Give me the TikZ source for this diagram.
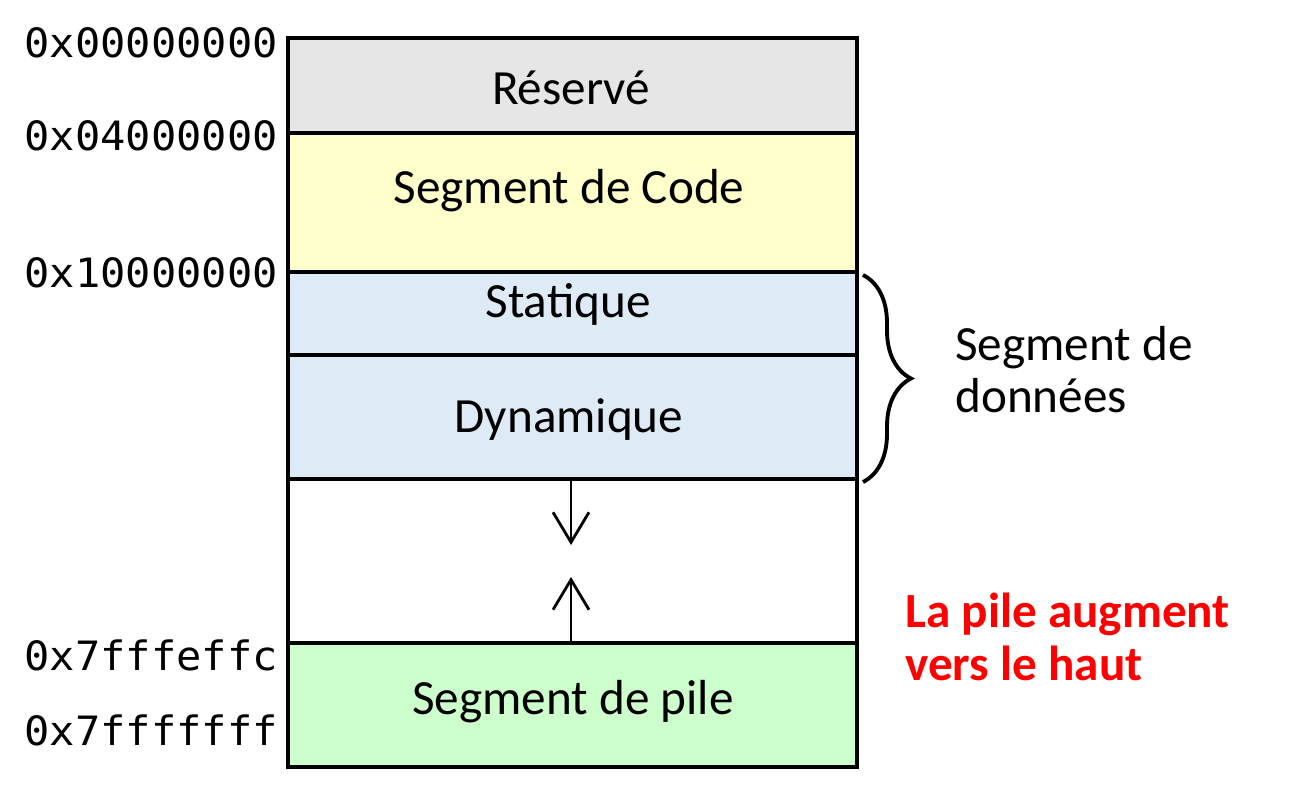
\documentclass[tikz,border=0pt]{standalone}
\usepackage{fontspec}
\setmainfont{Carlito}
\newfontfamily\adrfont[FakeStretch=1.04]{DejaVu Sans Mono}
\usepackage{xcolor}
\usetikzlibrary{positioning,arrows.meta,decorations.pathreplacing}
\definecolor{gris}{HTML}{E6E6E6}
\definecolor{jaune}{HTML}{FFFFCC}
\definecolor{bleu}{HTML}{DEEAF6}
\definecolor{vert}{HTML}{CCFFCC}

\begin{document}
\begin{tikzpicture}[x=0.02cm,y=-0.02cm,
    seg/.style={draw, line width=2.1pt, minimum width=11.38cm, inner sep=0pt, outer sep=0pt},
    lbl/.style={anchor=base, inner sep=0pt, font=\fontsize{28}{30}\selectfont},
    note/.style={anchor=base west, inner sep=0pt, font=\fontsize{28}{30}\selectfont},
    adr/.style={anchor=base east, inner sep=0pt, font=\adrfont\fontsize{23}{27}\selectfont},
    fleche/.style={-{Straight Barb[length=0.6cm,width=0.72cm]}, line width=1.6pt},
    accolade/.style={decorate, decoration={brace, amplitude=0.96cm}, line width=2.2pt}]
        \useasboundingbox (0,0) rectangle (1291,791);

        % les segments de la memoire
        \node[seg, fill=gris, minimum height=1.9cm, anchor=north west] (reserve) at (288,38) {};
        \node[seg, fill=jaune, minimum height=2.78cm, below=0pt of reserve] (code) {};
        \node[seg, fill=bleu, minimum height=1.66cm, below=0pt of code] (statique) {};
        \node[seg, fill=bleu, minimum height=2.48cm, below=0pt of statique] (dynamique) {};
        \node[seg, fill=white, minimum height=3.28cm, below=0pt of dynamique] (libre) {};
        \node[seg, fill=vert, minimum height=2.48cm, below=0pt of libre] (pile) {};

        \node[lbl] (treserve) at (571,104) {Réservé};
        \node[lbl] (tcode) at (569,203) {Segment de Code};
        \node[lbl] (tstatique) at (568,317) {Statique};
        \node[lbl] (tdynamique) at (569,432) {Dynamique};
        \node[lbl] (tpile) at (573,714) {Segment de pile};

        % les adresses
        \node[adr] (a0) at (278,57) {0x00000000};
        \node[adr] (a1) at (278,150) {0x04000000};
        \node[adr] (a2) at (278,287) {0x10000000};
        \node[adr] (a3) at (278,670) {0x7fffeffc};
        \node[adr] (a4) at (278,745) {0x7fffffff};

        % tas et pile
        \coordinate (bas) at (571,545);
        \coordinate (haut) at (571,577);
        \draw[fleche] (libre.north -| bas) -- (bas);
        \draw[fleche] (libre.south -| haut) -- (haut);

        \draw[accolade] (863,275) -- (863,482);
        \node[note] (donnees1) at (955,360) {Segment de};
        \node[note] (donnees2) at (955,412) {données};

        \node[note, text=red, font=\fontsize{28}{30}\selectfont\bfseries] (sens1) at (905,627) {La pile augment};
        \node[note, text=red, font=\fontsize{28}{30}\selectfont\bfseries] (sens2) at (905,680) {vers le haut};
      \end{tikzpicture}
\end{document}
